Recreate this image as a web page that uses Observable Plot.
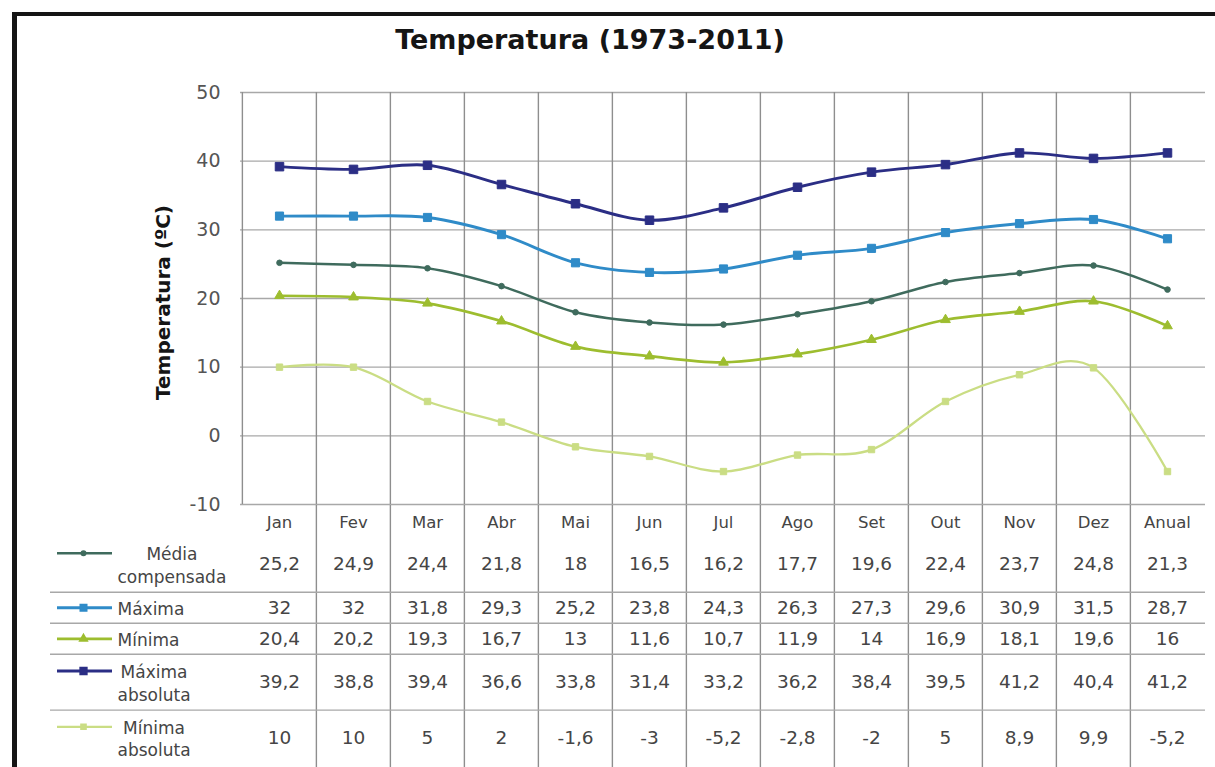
<!DOCTYPE html>
<html>
<head>
<meta charset="utf-8">
<script src="https://cdn.jsdelivr.net/npm/d3@7"></script>
<script src="https://cdn.jsdelivr.net/npm/@observablehq/plot@0.6"></script>
<style>
  html, body { margin: 0; padding: 0; background: #fff; }
  body { width: 1215px; height: 767px; overflow: hidden; position: relative; font-family: "DejaVu Sans", Verdana, sans-serif; }
  #frame { position: absolute; left: 12px; top: 12px; width: 1300px; height: 900px; border-left: 5px solid #151515; border-top: 4px solid #151515; }
  #title { position: absolute; left: 0; width: 1180px; top: 25px; text-align: center; font-weight: bold; font-size: 27px; color: #151515; line-height: 30px; }
  #chart { position: absolute; left: 0; top: 0; }
  #table { position: absolute; left: 0; top: 505px; }
  svg { overflow: visible; }
</style>
</head>
<body>
<div id="frame"></div>
<div id="title">Temperatura (1973-2011)</div>
<div id="chart"></div>
<div id="table"></div>
<script>
// Monthly temperature normals, 1973-2011 (ºC)
const months = ["Jan", "Fev", "Mar", "Abr", "Mai", "Jun", "Jul", "Ago", "Set", "Out", "Nov", "Dez", "Anual"];
const seriesNames = ["Média\ncompensada", "Máxima", "Mínima", "Máxima\nabsoluta", "Mínima\nabsoluta"];
const mediaCompensada = [25.2, 24.9, 24.4, 21.8, 18, 16.5, 16.2, 17.7, 19.6, 22.4, 23.7, 24.8, 21.3];
const maxima = [32, 32, 31.8, 29.3, 25.2, 23.8, 24.3, 26.3, 27.3, 29.6, 30.9, 31.5, 28.7];
const minima = [20.4, 20.2, 19.3, 16.7, 13, 11.6, 10.7, 11.9, 14, 16.9, 18.1, 19.6, 16];
const maximaAbsoluta = [39.2, 38.8, 39.4, 36.6, 33.8, 31.4, 33.2, 36.2, 38.4, 39.5, 41.2, 40.4, 41.2];
const minimaAbsoluta = [10, 10, 5, 2, -1.6, -3, -5.2, -2.8, -2, 5, 8.9, 9.9, -5.2];
const yTicks = [-10, 0, 10, 20, 30, 40, 50];

// Look of each series (same order as seriesNames)
const seriesValues = [mediaCompensada, maxima, minima, maximaAbsoluta, minimaAbsoluta];
const seriesColors = ["#3f6b5d", "#2f8bc8", "#9dbd2f", "#2b2e85", "#cadd84"];
const seriesSymbols = ["circle", "square", "triangle", "square", "square"];
const seriesRadius = [2.8, 4.6, 3.6, 4.8, 3.6];
const seriesWidth = [2.5, 2.9, 2.7, 2.9, 2.3];

const W = 1215, LEFT = 240, RIGHT = 10;
const FONT = "'DejaVu Sans', Verdana, sans-serif";
const TEXT = "#454545";
const GRID_H = "#a8a8a8", GRID_V = "#8e8e8e";

const series = seriesNames.map((name, i) => ({
  name,
  color: seriesColors[i],
  symbol: seriesSymbols[i],
  r: seriesRadius[i],
  width: seriesWidth[i],
  rows: months.map((m, j) => ({month: m, value: seriesValues[i][j]}))
}));

// ---------- line chart ----------
const bw = (W - LEFT - RIGHT) / months.length;
const drawOrder = [4, 2, 0, 1, 3];

const chart = Plot.plot({
  width: W,
  height: 510,
  marginLeft: LEFT,
  marginRight: RIGHT,
  marginTop: 92,
  marginBottom: 6,
  style: {fontFamily: FONT, fontSize: "19px", color: "#555", background: "transparent"},
  x: {type: "band", domain: months, padding: 0, axis: null},
  y: {domain: [-10, 50], ticks: yTicks, tickSize: 0, tickPadding: 20, tickFormat: d => String(d), label: null},
  marks: [
    Plot.ruleY(yTicks, {stroke: GRID_H, strokeWidth: 1.4}),
    Plot.ruleX(months, {x: d => d, dx: -bw / 2, stroke: GRID_V, strokeWidth: 1.4}),
    Plot.text(["Temperatura (ºC)"], {
      text: d => d, frameAnchor: "left", textAnchor: "middle", dx: -77, dy: 4, rotate: -90,
      fontSize: 20, fontWeight: "bold", fill: "#151515"
    }),
    ...drawOrder.flatMap(i => {
      const s = series[i];
      return [
        Plot.line(s.rows, {x: "month", y: "value", stroke: s.color, strokeWidth: s.width, curve: "cardinal"}),
        Plot.dot(s.rows, {x: "month", y: "value", symbol: s.symbol, r: s.r, fill: s.color, stroke: s.color, strokeWidth: 1})
      ];
    })
  ]
});
document.getElementById("chart").append(chart);

// ---------- data table with legend ----------
const UNIT = 31;             // height of a one-line row
const LINE = 1.32;           // line height of wrapped labels (em)
const LABEL_SIZE = 17;
const rowUnits = s => s.name.split("\n").length > 1 ? 1.8 : 1;
let cursor = 1;              // first unit is the month header row
const layout = series.map(s => {
  const top = cursor;
  cursor += rowUnits(s);
  return {s, top, center: (top + cursor) / 2, lines: s.name.split("\n").length};
});
const totalUnits = cursor;
const TABLE_LEFT = 50;

const ctx = document.createElement("canvas").getContext("2d");
ctx.font = `${LABEL_SIZE}px 'DejaVu Sans'`;
const labelWidth = name => Math.max(...name.split("\n").map(t => ctx.measureText(t).width));

const cells = layout.flatMap(L => L.s.rows.map(r => ({
  month: r.month, center: L.center, label: String(r.value).replace(".", ",")
})));

const table = Plot.plot({
  width: W,
  height: Math.ceil(totalUnits * UNIT) + 2,
  marginLeft: TABLE_LEFT,
  marginRight: RIGHT,
  marginTop: 0,
  marginBottom: 0,
  style: {fontFamily: FONT, background: "transparent"},
  x: {type: "band", domain: months, padding: 0, range: [LEFT, W - RIGHT], axis: null},
  y: {domain: [0, totalUnits], range: [0, totalUnits * UNIT], axis: null},
  marks: [
    Plot.ruleX(months.slice(1), {x: d => d, dx: -bw / 2, stroke: GRID_V, strokeWidth: 1.4}),
    Plot.ruleY(layout.slice(1), {y: "top", stroke: GRID_H, strokeWidth: 1.4}),
    Plot.text(months, {x: d => d, y: () => 0.55, text: d => d, fontSize: 16.5, fill: TEXT}),
    Plot.text(cells, {x: "month", y: "center", text: "label", fontSize: 18.5, fill: TEXT}),
    ...layout.flatMap(L => {
      const lift = -(L.lines - 1) * LINE * LABEL_SIZE / 2;
      return [
        Plot.ruleY([L], {y: "center", dy: lift, stroke: L.s.color, strokeWidth: L.s.width,
          insetLeft: 7, insetRight: (W - RIGHT) - 112}),
        Plot.dot([L], {y: "center", dy: lift, frameAnchor: "left", dx: 33,
          symbol: L.s.symbol, r: L.s.r * 0.8, fill: L.s.color, stroke: L.s.color}),
        Plot.text([L], {y: "center", text: d => d.s.name, frameAnchor: "left",
          dx: 67 + labelWidth(L.s.name) / 2, textAnchor: "middle", lineHeight: LINE,
          fontSize: LABEL_SIZE, fill: TEXT})
      ];
    })
  ]
});
document.getElementById("table").append(table);
</script>
</body>
</html>
